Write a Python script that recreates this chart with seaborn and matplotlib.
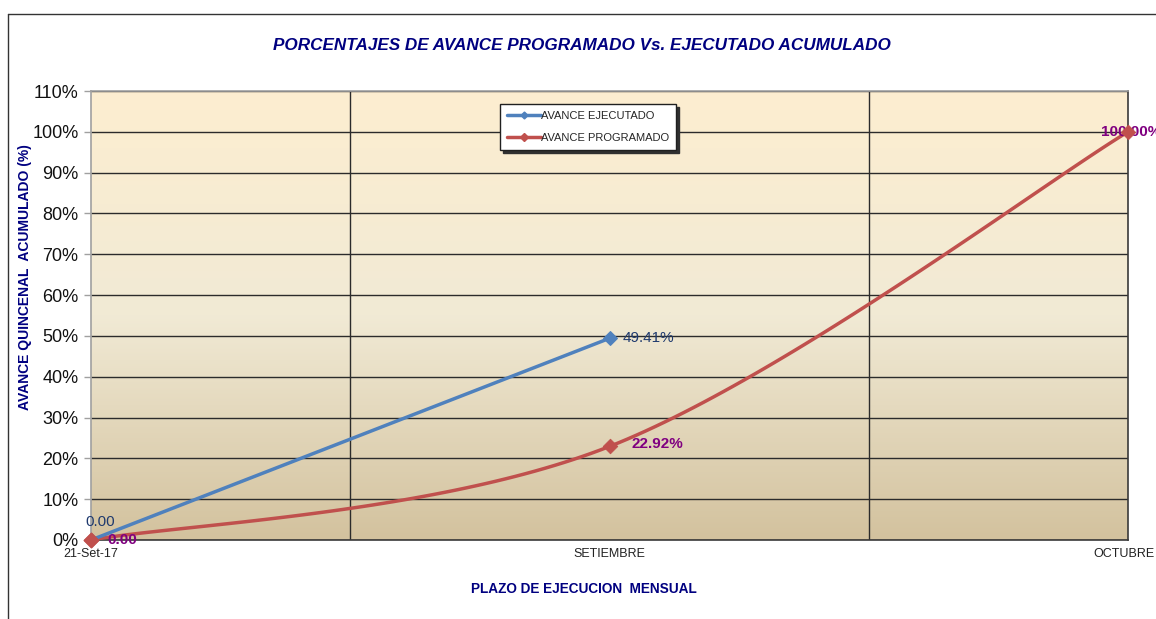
import matplotlib
matplotlib.use("Agg")
import matplotlib.pyplot as plt
import matplotlib.colors as mcolors
import matplotlib.transforms as mtransforms
from matplotlib.lines import Line2D
import numpy as np
import pandas as pd
import seaborn as sns

# datos del grafico
categorias = ["21-Set-17", "SETIEMBRE", "OCTUBRE"]
ejecutado = [0.0, 49.41]
programado = [0.0, 22.92, 100.0]
etiquetas_ejec = ["0.00", "49.41%"]
etiquetas_prog = ["0.00", "22.92%", "100.00%"]

sns.set_theme(style="white")
plt.rcParams['font.family'] = ['Liberation Sans', 'DejaVu Sans']

AZUL = "#4F81BD"
ROJO = "#C0504D"
NAVY = "#000080"
TXT_AZUL = "#1F3A6E"
MORADO = "#800080"


def excel_smooth(xs, ys, n=60):
    # curva suavizada tipo Excel (bezier cubica, tension 1/6)
    pts = np.column_stack([xs, ys]).astype(float)
    out = []
    for i in range(len(pts) - 1):
        p0 = pts[i - 1] if i > 0 else pts[i]
        p1 = pts[i]
        p2 = pts[i + 1]
        p3 = pts[i + 2] if i + 2 < len(pts) else pts[i + 1]
        c1 = p1 + (p2 - p0) / 6
        c2 = p2 - (p3 - p1) / 6
        t = np.linspace(0, 1, n)[:, None]
        seg = ((1 - t) ** 3) * p1 + 3 * ((1 - t) ** 2) * t * c1 + 3 * (1 - t) * t ** 2 * c2 + t ** 3 * p2
        out.append(seg if i == 0 else seg[1:])
    out = np.vstack(out)
    return out[:, 0], out[:, 1]


df_ejec = pd.DataFrame({"x": np.arange(len(ejecutado)), "y": ejecutado})
df_prog = pd.DataFrame({"x": np.arange(len(programado)), "y": programado})
sx, sy = excel_smooth(df_prog["x"], df_prog["y"])
df_suave = pd.DataFrame({"x": sx, "y": sy})

fig = plt.figure(figsize=(11.56, 6.19), dpi=100)
ax = fig.add_axes([91 / 1156, 1 - 540 / 619, (1128 - 91) / 1156, (540 - 91) / 619])

# fondo degradado
cmap = mcolors.LinearSegmentedColormap.from_list(
    "fondo", [(0, "#D3C29E"), (0.5, "#F1EAD5"), (1, "#FDEED0")])
grad = np.linspace(0, 1, 256)[:, None]
ax.imshow(grad, extent=[0, 2, 0, 110], origin="lower", aspect="auto",
          cmap=cmap, zorder=0)

sns.lineplot(data=df_suave, x="x", y="y", ax=ax, color=ROJO, lw=2.5,
             zorder=3, legend=False)
sns.scatterplot(data=df_prog, x="x", y="y", ax=ax, color=ROJO, marker="D",
                s=55, edgecolor=ROJO, zorder=5, legend=False, clip_on=False)
sns.lineplot(data=df_ejec, x="x", y="y", ax=ax, color=AZUL, lw=2.5,
             marker="D", markersize=7, markeredgecolor=AZUL, zorder=4,
             legend=False)
# el marcador rojo del inicio queda encima
ax.scatter([0], [programado[0]], color=ROJO, marker="D", s=55, zorder=6,
           clip_on=False)

ax.set_xlim(0, 2)
ax.set_ylim(0, 110)
ax.set_xticks(range(len(categorias)))
ax.set_xticklabels(categorias, fontsize=9, color="#222222")
ax.set_xticks([0.5, 1.5], minor=True)
ax.set_yticks(range(0, 111, 10))
ax.set_yticklabels([f"{v}%" for v in range(0, 111, 10)], fontsize=13,
                   color="#111111")
ax.tick_params(axis="x", which="major", length=0, pad=6)
ax.tick_params(axis="x", which="minor", length=0)
ax.tick_params(axis="y", length=5, color="#A0A0A0", width=1, pad=4, left=True)
ax.grid(axis="y", which="major", color="#2B2B2B", lw=1)
ax.grid(axis="x", which="minor", color="#2B2B2B", lw=1)
ax.set_axisbelow(True)
ax.set_xlabel("")
ax.set_ylabel("")
for lado, col in [("left", "#A0A0A0"), ("top", "#A0A0A0"),
                  ("right", "#3A3A3A"), ("bottom", "#3A3A3A")]:
    ax.spines[lado].set_color(col)
    ax.spines[lado].set_linewidth(1.2)
    ax.spines[lado].set_visible(True)

# OCTUBRE un poco a la izquierda para que quepa
lbl = ax.get_xticklabels()[-1]
lbl.set_transform(lbl.get_transform() + mtransforms.ScaledTranslation(-4 / 100, 0, fig.dpi_scale_trans))

# etiquetas de datos
ax.annotate(etiquetas_ejec[0], (0, ejecutado[0]), xytext=(6.5, 13),
            textcoords="offset points", fontsize=11, color=TXT_AZUL,
            ha="center", va="center", annotation_clip=False)
ax.annotate(etiquetas_ejec[1], (1, ejecutado[1]), xytext=(9.5, 0),
            textcoords="offset points", fontsize=11, color=TXT_AZUL,
            ha="left", va="center", annotation_clip=False)
ax.annotate(etiquetas_prog[0], (0, programado[0]), xytext=(12, 0),
            textcoords="offset points", fontsize=11, color=MORADO,
            fontweight="bold", ha="left", va="center", annotation_clip=False)
ax.annotate(etiquetas_prog[1], (1, programado[1]), xytext=(16, 2),
            textcoords="offset points", fontsize=11, color=MORADO,
            fontweight="bold", ha="left", va="center", annotation_clip=False)
ax.annotate(etiquetas_prog[2], (2, programado[2]), xytext=(2, 0),
            textcoords="offset points", fontsize=11, color=MORADO,
            fontweight="bold", ha="center", va="center", annotation_clip=False)

# leyenda
h1 = Line2D([], [], color=AZUL, lw=2.5, marker="D", markersize=3.5)
h2 = Line2D([], [], color=ROJO, lw=2.5, marker="D", markersize=4.5)
leg = ax.legend([h1, h2], ["AVANCE EJECUTADO", "AVANCE PROGRAMADO"],
                loc="upper left", bbox_to_anchor=((500 - 91) / 1037, (540 - 104) / 449),
                fontsize=8, frameon=True, fancybox=False, shadow={"color": "#303030", "alpha": 1},
                handlelength=3.0, handletextpad=0.0, borderpad=0.65,
                labelspacing=1.05, borderaxespad=0)
leg.get_frame().set_edgecolor("#202020")
leg.get_frame().set_facecolor("white")
leg.get_frame().set_linewidth(1)
leg.set_zorder(10)

# titulos
fig.text(582 / 1156, 1 - 46 / 619,
         "PORCENTAJES DE AVANCE PROGRAMADO Vs. EJECUTADO ACUMULADO",
         ha="center", va="center", fontsize=12.3, fontweight="bold",
         fontstyle="italic", color=NAVY)
fig.text(584 / 1156, 1 - 589 / 619, "PLAZO DE EJECUCION  MENSUAL",
         ha="center", va="center", fontsize=9.8, fontweight="bold", color=NAVY)
fig.text(25 / 1156, 1 - 277 / 619, "AVANCE QUINCENAL  ACUMULADO (%)",
         ha="center", va="center", rotation=90, fontsize=10,
         fontweight="bold", color=NAVY)

# borde exterior del area del grafico
fig.add_artist(Line2D([8 / 1156, 8 / 1156], [0, 1 - 14 / 619],
                      transform=fig.transFigure, color="#333333", lw=1))
fig.add_artist(Line2D([8 / 1156, 1], [1 - 14 / 619, 1 - 14 / 619],
                      transform=fig.transFigure, color="#333333", lw=1))

fig.savefig("out.png", dpi=100)
